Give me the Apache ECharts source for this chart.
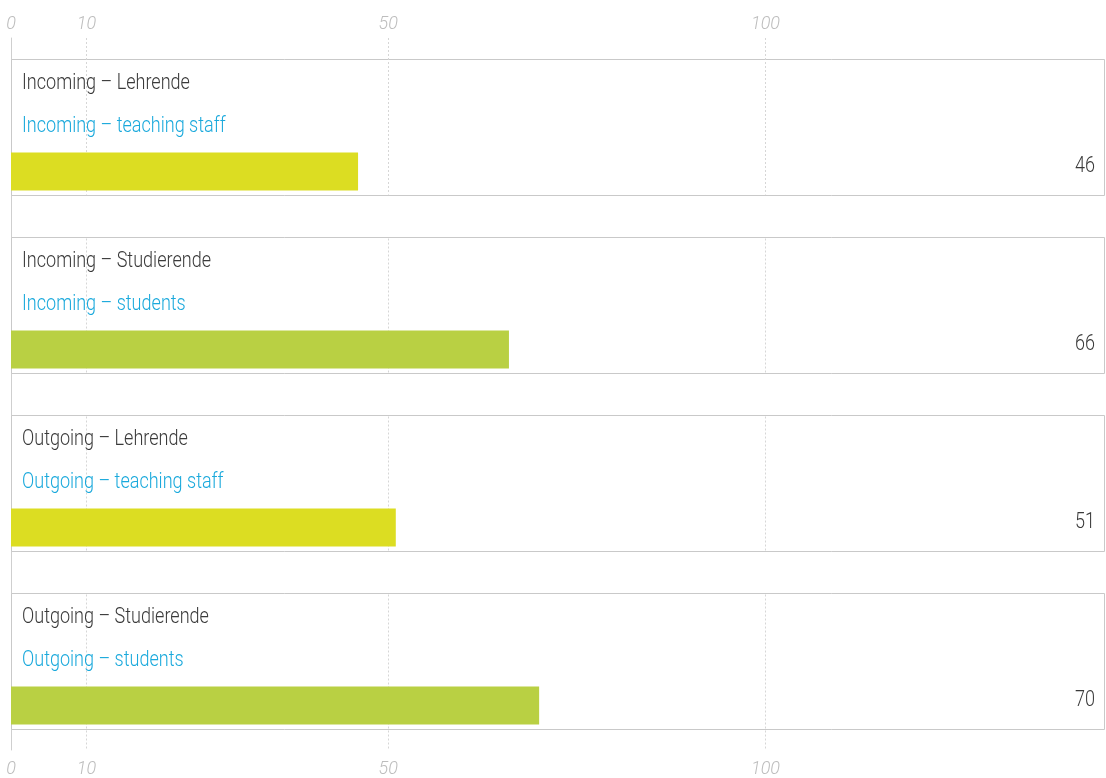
<!DOCTYPE html>
<html>
<head>
<meta charset="utf-8">
<script src="https://cdn.jsdelivr.net/npm/echarts@6/dist/echarts.min.js"></script>
<style>
html,body{margin:0;padding:0;background:#fff;}
#chart{width:1106px;height:778px;}
</style>
</head>
<body>
<div id="chart"></div>
<script>
const categories = ['Incoming – Lehrende', 'Incoming – Studierende', 'Outgoing – Lehrende', 'Outgoing – Studierende'];
const subtitles = ['Incoming – teaching staff', 'Incoming – students', 'Outgoing – teaching staff', 'Outgoing – students'];
const values = [46, 66, 51, 70];
const tickValues = [0, 10, 50, 100];
const gridValues = [10, 50, 100];
const axisMax = 145;

const FONT = 'Roboto, "Noto Sans", sans-serif';
const barColors = ['#dcdd22', '#b9d043'];
const SX = 0.82;

const chart = echarts.init(document.getElementById('chart'), null, {renderer: 'canvas'});

const axisCommon = {
  type: 'value', min: 0, max: axisMax,
  axisLine: {show: false}, axisTick: {show: false}, splitLine: {show: false},
  axisLabel: {customValues: tickValues, color: '#bdbdbd', fontStyle: 'italic', fontWeight: 300, fontSize: 18, fontFamily: FONT}
};

function txt(str, x, y, color, align) {
  return {type: 'text', x: x, y: y, scaleX: SX, scaleY: 1,
    style: {text: str, x: 0, y: 0, fill: color, fontSize: 22, fontWeight: 300, fontFamily: FONT,
      align: align, verticalAlign: 'middle'}};
}

chart.setOption({
  animation: false,
  grid: {left: 11, right: 1, top: 38, height: 712},
  xAxis: [
    Object.assign({}, axisCommon, {position: 'bottom', axisLabel: Object.assign({}, axisCommon.axisLabel, {margin: 10})}),
    Object.assign({}, axisCommon, {position: 'top', axisLabel: Object.assign({}, axisCommon.axisLabel, {margin: 5})})
  ],
  yAxis: {
    type: 'category', inverse: true, data: categories,
    axisLine: {show: true, lineStyle: {color: '#cfcfcf', width: 1}},
    axisTick: {show: false}, axisLabel: {show: false}, splitLine: {show: false}
  },
  series: [{
    type: 'custom',
    xAxisIndex: 0,
    data: values.map((v, i) => [v, i]),
    encode: {x: 0, y: 1},
    renderItem: function (params, api) {
      const idx = api.value(1);
      const val = api.value(0);
      const cs = params.coordSys;
      const c = api.coord([0, idx]);
      const left = cs.x;
      const right = cs.x + cs.width;
      const top = Math.round(c[1] - 68) + 0.5;
      const bottom = top + 136;
      const end = api.coord([val, idx])[0];
      const children = [];
      children.push({type: 'rect', shape: {x: left + 0.5, y: top, width: right - left - 1, height: 136},
        style: {fill: '#fff', stroke: '#c9c9c9', lineWidth: 1}});
      gridValues.forEach(g => {
        const gx = Math.round(api.coord([g, idx])[0]) + 0.5;
        const y1 = idx === 0 ? cs.y : top + 1;
        const y2 = idx === categories.length - 1 ? cs.y + cs.height : bottom - 1;
        children.push({type: 'line', shape: {x1: gx, y1: y1, x2: gx, y2: y2},
          style: {stroke: '#d6d6d6', lineWidth: 1, lineDash: [2, 2]}});
      });
      children.push({type: 'rect', shape: {x: left, y: top + 93, width: end - left, height: 38},
        style: {fill: barColors[idx % 2]}});
      children.push(txt(categories[idx], left + 11, top + 24, '#3a3a3a', 'left'));
      children.push(txt(subtitles[idx], left + 11, top + 67, '#1aa9dc', 'left'));
      children.push(txt(String(val), right - 10, top + 107, '#3a3a3a', 'right'));
      return {type: 'group', children: children};
    }
  }]
});
</script>
</body>
</html>
